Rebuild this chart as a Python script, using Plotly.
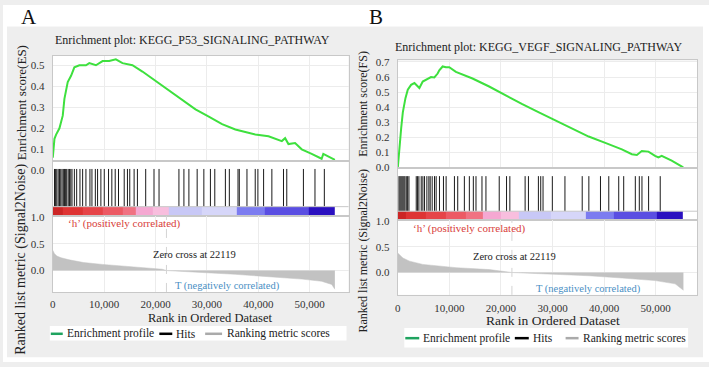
import plotly.graph_objects as go

W, H = 709, 367

# ---------------- data ----------------
rank_ticks = [0, 10000, 20000, 30000, 40000, 50000]
zero_cross = 22119

# Panel A : KEGG_P53_SIGNALING_PATHWAY
es_rank_a = [0, 323, 646, 1292, 1938, 2261, 2907, 3553, 4199, 5168,
             6460, 7106, 8398, 9690, 10982, 12274, 13566, 15504, 17442, 20026,
             22610, 25194, 27778, 30362, 32946, 35530, 38114, 39406, 41990, 43282,
             44574, 45220, 45866, 47158, 48450, 50388, 52326, 52649, 53941, 54910]
es_a = [0.06, 0.15, 0.17, 0.20, 0.26, 0.34, 0.42, 0.45, 0.49, 0.50,
        0.50, 0.51, 0.50, 0.52, 0.52, 0.528, 0.51, 0.50, 0.47, 0.425,
        0.38, 0.333, 0.29, 0.255, 0.22, 0.194, 0.176, 0.17, 0.162, 0.15,
        0.139, 0.153, 0.125, 0.13, 0.10, 0.078, 0.055, 0.078, 0.06, 0.05]
hits_a = [330, 550, 775, 1050, 1300, 1550, 1800, 2050, 2270, 2500, 2710, 3000,
          3240, 3500, 3740, 4200, 4650, 5290, 5810, 6450, 7230, 7620, 8280, 8720,
          9360, 10020, 10850, 11490, 12150, 12790, 13900, 14530, 14980, 15830,
          16470, 18080, 19700, 20680, 24550, 25520, 26490, 28100, 29400, 30680,
          31530, 33590, 34360, 36050, 36300, 37790, 39400, 39920, 41030, 42640,
          44900, 45540, 48780, 51030, 52850]
metric_rank_a = [0, 300, 800, 1600, 3200, 6000, 9700, 13000, 16200, 19000, 21300,
                 22119, 25000, 29000, 35500, 42000, 48500, 52300, 54300, 54900]
metric_a = [0.38, 0.32, 0.27, 0.24, 0.20, 0.15, 0.115, 0.088, 0.067, 0.045, 0.025,
            0.0, -0.02, -0.036, -0.07, -0.11, -0.16, -0.20, -0.26, -0.35]
bar_edges_a = [0, 1940, 5810, 9690, 13570, 16090, 19380, 22670, 29070, 35850,
               41280, 49810, 54840]
bar_levels_a = [1.0, 0.88, 0.75, 0.62, 0.5, 0.3, 0.22, -0.2, -0.14, -0.6, -0.75, -1.0]

# Panel B : KEGG_VEGF_SIGNALING_PATHWAY
es_rank_b = [0, 200, 650, 970, 1480, 1930, 2570, 3220, 3860, 4180,
             4830, 5790, 6430, 7080, 7720, 8040, 8690, 9330, 9970, 11260,
             14480, 17700, 20910, 24130, 27350, 30570, 33780, 37000, 40220, 43440,
             45370, 46340, 47300, 48590, 49870, 50520, 51160, 53090, 55340]
es_b = [0.0, 0.10, 0.26, 0.366, 0.46, 0.516, 0.548, 0.56, 0.538, 0.527,
        0.57, 0.59, 0.60, 0.597, 0.623, 0.644, 0.67, 0.665, 0.665, 0.634,
        0.59, 0.537, 0.477, 0.42, 0.366, 0.313, 0.26, 0.205, 0.163, 0.12,
        0.088, 0.083, 0.109, 0.105, 0.077, 0.066, 0.077, 0.045, 0.0]
hits_b = [225, 418, 611, 804, 997, 1190, 1383, 1641, 1898, 2156, 3571, 3829,
          4086, 4537, 4858, 5180, 5630, 6017, 6274, 6660, 7111, 7432, 8076, 8848,
          9363, 10972, 11615, 12902, 13867, 14640, 15154, 16313, 17085, 19659,
          21075, 21718, 24678, 25322, 27252, 27703, 28153, 29955, 32401, 35747,
          37034, 39286, 40895, 42825, 43790, 46043, 46815, 47330, 48617, 50873]
metric_rank_b = [0, 1000, 2280, 4860, 11290, 17730, 22119, 30600, 37030, 43470,
                 49900, 53760, 55370]
metric_b = [0.377, 0.28, 0.22, 0.157, 0.094, 0.057, 0.0, -0.03, -0.063, -0.107,
            -0.157, -0.22, -0.345]
bar_edges_b = [0, 1640, 5500, 9360, 13220, 16500, 19980, 23450, 29630, 36390,
               41800, 50290, 55310]
bar_levels_b = [1.0, 0.88, 0.75, 0.62, 0.5, 0.3, 0.22, -0.2, -0.14, -0.6, -0.75, -1.0]

titles = ["Enrichment plot: KEGG_P53_SIGNALING_PATHWAY",
          "Enrichment plot: KEGG_VEGF_SIGNALING_PATHWAY"]
es_titles = ["Enrichment score(ES)", "Enrichment score(FS)"]
metric_title = "Ranked list metric (Signal2Noise)"
x_title = "Rank in Ordered Dataset"
legend_labels = ["Enrichment profile", "Hits", "Ranking metric scores"]

# ---------------- helpers ----------------
SERIF = "Liberation Serif"
def fx(x):
    return x / W
def fy(y):
    return 1 - y / H

colorscale = [[0.0, '#2a10c0'], [0.125, '#5a4ee2'], [0.2, '#7c7cf0'],
              [0.4, '#c8c8f6'], [0.43, '#d6d6f9'], [0.5, '#f0e8f4'],
              [0.61, '#f8bede'], [0.65, '#f5a8d2'], [0.75, '#f07282'],
              [0.81, '#ec5a64'], [0.875, '#e64448'], [0.94, '#de3434'],
              [1.0, '#cc2626']]

fig = go.Figure()
layout_axes = {}
shapes = []
annotations = []

def aname(n):
    return '' if n == 1 else str(n)

def add_panel(base, es_rank, es, hits, m_rank, m, edges, levels, geo):
    n1, n2, n3 = base, base + 1, base + 2
    s1, s2, s3 = aname(n1), aname(n2), aname(n3)
    # ES curve
    fig.add_trace(go.Scatter(x=es_rank, y=es, mode='lines',
                             line=dict(color='#3ee03e', width=2),
                             xaxis='x' + s1, yaxis='y' + s1, hoverinfo='skip'))
    # hits
    hx, hy = [], []
    for h in hits:
        hx += [h, h, None]
        hy += [0.17, 0.85, None]
    fig.add_trace(go.Heatmap(x=edges, y=[0, 0.17], z=[levels], colorscale=colorscale,
                             zmin=-1, zmax=1, showscale=False, hoverinfo='skip',
                             xaxis='x' + s2, yaxis='y' + s2))
    fig.add_trace(go.Scatter(x=hx, y=hy, mode='lines',
                             line=dict(color='#1a1a1a', width=1),
                             xaxis='x' + s2, yaxis='y' + s2, hoverinfo='skip'))
    # ranked metric
    fig.add_trace(go.Scatter(x=m_rank, y=m, mode='lines', fill='tozeroy',
                             fillcolor='#c2c2c2', line=dict(color='#c2c2c2', width=0.5),
                             xaxis='x' + s3, yaxis='y' + s3, hoverinfo='skip'))

    xl, xr = geo['x']
    tick_font = dict(family=SERIF, size=11, color='#333333')
    common_x = dict(range=[0, geo['xmax']], tickvals=rank_ticks, showgrid=True,
                    gridcolor='#ececec', gridwidth=1, zeroline=False, showline=True,
                    mirror=True, linecolor='#c8c8c8', linewidth=1, ticks='',
                    domain=[fx(xl), fx(xr)], fixedrange=True)
    common_y = dict(zeroline=False, showline=True, mirror=True, linecolor='#c8c8c8',
                    linewidth=1, ticks='', tickfont=tick_font, fixedrange=True,
                    gridcolor='#ececec', ticklabelstandoff=5)
    layout_axes['xaxis' + s1] = dict(common_x, anchor='y' + s1, showticklabels=False)
    layout_axes['xaxis' + s2] = dict(common_x, anchor='y' + s2, showticklabels=False,
                                     showgrid=False)
    layout_axes['xaxis' + s3] = dict(common_x, anchor='y' + s3, showticklabels=True,
                                     tickformat=',d', tickfont=tick_font,
                                     ticklabelstandoff=geo['xtick_standoff'])
    t_es, b_es = geo['es']
    t_h, b_h = geo['hits']
    t_m, b_m = geo['rank']
    layout_axes['yaxis' + s1] = dict(common_y, anchor='x' + s1, domain=[fy(b_es), fy(t_es)],
                                     range=geo['es_range'], dtick=0.1, tick0=0,
                                     tickformat='.1f', showgrid=True)
    hit_ticks = geo.get('hit_ticks', [])
    hy_ax = dict(common_y, anchor='x' + s2, domain=[fy(b_h), fy(t_h)],
                 range=[0, 1], showgrid=False)
    if hit_ticks:
        hy_ax.update(tickmode='array', tickvals=hit_ticks,
                     ticktext=['0.0'] * len(hit_ticks), showticklabels=True)
    else:
        hy_ax.update(showticklabels=False)
    layout_axes['yaxis' + s2] = hy_ax
    layout_axes['yaxis' + s3] = dict(common_y, anchor='x' + s3, domain=[fy(b_m), fy(t_m)],
                                     range=geo['rank_range'], dtick=0.5, tick0=0,
                                     tickformat='.1f', showgrid=True)

    # colour bar top line and zero-cross marker
    shapes.append(dict(type='line', xref='x' + s2 + ' domain', x0=0, x1=1,
                       yref='y' + s2, y0=0.17, y1=0.17,
                       line=dict(color='#c8c8c8', width=1)))
    shapes.append(dict(type='line', xref='x' + s3, x0=zero_cross, x1=zero_cross,
                       yref='y' + s3 + ' domain', y0=0, y1=1,
                       line=dict(color='#d4d4d4', width=1, dash='dash')))

    def txt(text, x, y, size, color='#222222', angle=0, xanchor='center'):
        annotations.append(dict(text=text, x=fx(x), y=fy(y), xref='paper', yref='paper',
                                showarrow=False, textangle=angle, xanchor=xanchor,
                                yanchor='middle',
                                font=dict(family=SERIF, size=size, color=color)))
    txt(geo['letter'], *geo['letter_pos'], 21, '#111111')
    txt(geo['title'], *geo['title_pos'], 12)
    txt(geo['es_title'], *geo['es_title_pos'], geo['es_title_size'], angle=-90)
    txt(metric_title, *geo['m_title_pos'], geo['m_title_size'], angle=-90)
    txt("\u2018h\u2019 (positively correlated)", *geo['pos_pos'], 11, '#d8403a')
    txt(f"Zero cross at {zero_cross}", *geo['zc_pos'], 10.5, '#222222')
    txt("T (negatively correlated)", *geo['neg_pos'], 10.5, '#4a8fc4')
    txt(x_title, *geo['xt_pos'], geo['xt_size'])

    # legend (drawn box)
    lx0, lx1, ly0, ly1 = geo['legend_box']
    shapes.append(dict(type='rect', xref='paper', yref='paper', x0=fx(lx0), x1=fx(lx1),
                       y0=fy(ly1), y1=fy(ly0), fillcolor='white',
                       line=dict(width=0), layer='below'))
    ly = geo['legend_y']
    for (a, b), col, lab, tx in zip(geo['legend_lines'],
                                    ['#1fa35f', '#000000', '#aaaaaa'],
                                    legend_labels, geo['legend_text_x']):
        shapes.append(dict(type='line', xref='paper', yref='paper', x0=fx(a), x1=fx(b),
                           y0=fy(ly), y1=fy(ly), line=dict(color=col, width=2.5)))
        txt(lab, tx, ly, geo['legend_size'], '#222222', xanchor='left')


geo_a = dict(x=(50, 347), xmax=57560, es=(52, 160), hits=(160, 217), rank=(217, 295),
             es_range=[0.046, 0.546], rank_range=[-0.4, 1.018], hit_ticks=[0.825],
             letter='A', letter_pos=(26, 12), title=titles[0], title_pos=(190, 36),
             es_title=es_titles[0], es_title_pos=(18, 100), es_title_size=13,
             m_title_pos=(18, 261), m_title_size=14,
             pos_pos=(122, 225), zc_pos=(192, 256), neg_pos=(225, 289),
             xtick_standoff=2, xt_pos=(208, 321.5), xt_size=12.5,
             legend_box=(47, 345, 330, 345), legend_y=338,
             legend_lines=[(48, 60), (157, 170), (203, 220)],
             legend_text_x=[62, 172, 223], legend_size=11.5)
geo_b = dict(x=(396.5, 697), xmax=58010, es=(57, 168), hits=(168, 221), rank=(221, 298),
             es_range=[-0.0065, 0.71], rank_range=[-0.434, 1.019],
             letter='B', letter_pos=(375, 12), title=titles[1], title_pos=(538, 43),
             es_title=es_titles[1], es_title_pos=(362, 101), es_title_size=12,
             m_title_pos=(362, 252), m_title_size=12,
             pos_pos=(468, 230), zc_pos=(514, 259), neg_pos=(588, 292),
             xtick_standoff=3, xt_pos=(552, 324.5), xt_size=13.5,
             legend_box=(403, 688, 332, 352), legend_y=342.5,
             legend_lines=[(404, 418), (514, 528), (565, 578)],
             legend_text_x=[420, 530, 580], legend_size=11.5)

add_panel(1, es_rank_a, es_a, hits_a, metric_rank_a, metric_a, bar_edges_a, bar_levels_a, geo_a)
add_panel(4, es_rank_b, es_b, hits_b, metric_rank_b, metric_b, bar_edges_b, bar_levels_b, geo_b)

# white page border around the grey panel area
for x0, x1, y0, y1 in [(0, W, 0, 22), (0, 4, 0, H), (703, W, 0, H), (0, W, 362, H)]:
    shapes.append(dict(type='rect', xref='paper', yref='paper', x0=fx(x0), x1=fx(x1),
                       y0=fy(y1), y1=fy(y0), fillcolor='white', line=dict(width=0),
                       layer='below'))

fig.update_layout(width=W, height=H, margin=dict(l=0, r=0, t=0, b=0),
                  paper_bgcolor='#eeeeee', plot_bgcolor='white', showlegend=False,
                  shapes=shapes, annotations=annotations, **layout_axes)

fig.write_html("out.html", config={'displayModeBar': False},
               post_script="document.body.style.margin='0px';"
                           "document.body.style.overflow='hidden';")
